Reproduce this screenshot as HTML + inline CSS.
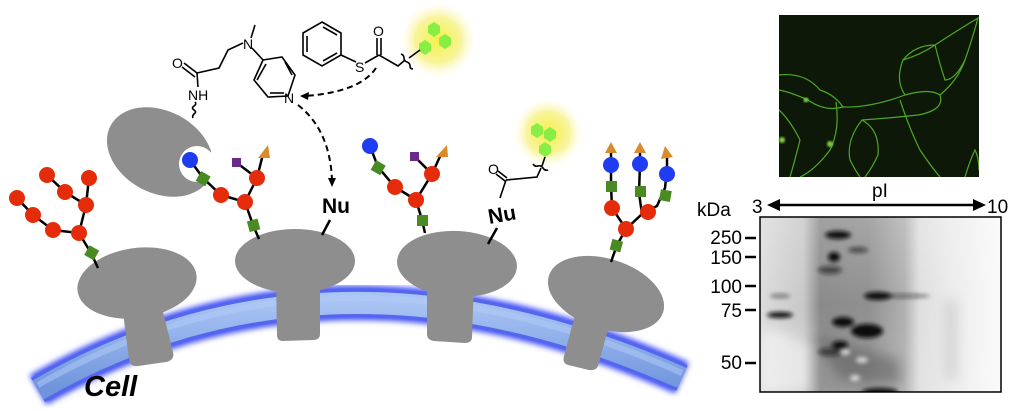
<!DOCTYPE html>
<html><head><meta charset="utf-8"><style>
html,body{margin:0;padding:0;background:#fff;width:1024px;height:411px;overflow:hidden}
svg{display:block}
text{font-family:"Liberation Sans",sans-serif}
</style></head><body>
<svg width="1024" height="411" viewBox="0 0 1024 411" xmlns="http://www.w3.org/2000/svg">
<defs>
<filter id="b3" x="-20%" y="-20%" width="140%" height="140%"><feGaussianBlur stdDeviation="3"/></filter>
<filter id="b2" x="-50%" y="-50%" width="200%" height="200%"><feGaussianBlur stdDeviation="2"/></filter>
<filter id="b6" x="-50%" y="-50%" width="200%" height="200%"><feGaussianBlur stdDeviation="6"/></filter>
<filter id="b1"><feGaussianBlur stdDeviation="1"/></filter>
<radialGradient id="glow"><stop offset="0" stop-color="#f4f04a"/><stop offset="0.6" stop-color="#f8f49a"/><stop offset="1" stop-color="#fffbe0" stop-opacity="0"/></radialGradient>
<linearGradient id="mem" x1="0" y1="0" x2="0" y2="1"><stop offset="0" stop-color="#a8c4f4"/><stop offset="1" stop-color="#6f94dc"/></linearGradient>
<linearGradient id="gelbg" x1="0" y1="0" x2="1" y2="0">
<stop offset="0" stop-color="#dcdcdc"/><stop offset="0.18" stop-color="#c8c8c8"/><stop offset="0.25" stop-color="#8a8a8a"/><stop offset="0.45" stop-color="#909090"/><stop offset="0.6" stop-color="#b0b0b0"/><stop offset="0.66" stop-color="#dedede"/><stop offset="0.8" stop-color="#ececec"/><stop offset="1" stop-color="#fafafa"/></linearGradient>
<linearGradient id="gelv" x1="0" y1="0" x2="0" y2="1"><stop offset="0" stop-color="#fff" stop-opacity="0.2"/><stop offset="0.5" stop-color="#fff" stop-opacity="0"/><stop offset="1" stop-color="#fff" stop-opacity="0.1"/></linearGradient>
<clipPath id="gelc"><rect x="760" y="217" width="241" height="175"/></clipPath>
<clipPath id="flc"><rect x="779" y="15" width="200" height="162"/></clipPath>
</defs>

<!-- membrane -->
<path d="M38,390 Q330,222 682,378" fill="none" stroke="#3b4cf5" stroke-width="34" filter="url(#b3)"/>
<path d="M38,390 Q330,222 682,378" fill="none" stroke="#5566ee" stroke-width="28"/>
<path d="M38,390 Q330,222 682,378" fill="none" stroke="url(#mem)" stroke-width="22"/>
<path d="M38,390 Q330,222 682,378" fill="none" stroke="#b2cbf5" stroke-width="6" transform="translate(0,-5)" opacity="0.5"/>

<g fill="#8e8e8e">
<ellipse cx="137" cy="283" rx="60" ry="35" transform="rotate(-8 137 283)"/>
<path d="M122,305 L160,300 L173,352 Q175,360 166,362 L138,366 Q130,367 129,359 Z"/>
<ellipse cx="295" cy="261" rx="60" ry="32"/>
<path d="M276,280 L320,280 L320,334 Q320,340 313,340 L283,341 Q277,341 277,335 Z"/>
<ellipse cx="457" cy="264" rx="60" ry="33" transform="rotate(3 457 264)"/>
<path d="M427,282 L474,282 L472,337 Q472,343 465,343 L434,341 Q427,340 427,334 Z"/>
<ellipse cx="606" cy="294" rx="60" ry="35" transform="rotate(18 606 294)"/>
<path d="M575,315 L610,322 L598,366 Q596,371 589,370 L568,365 Q562,363 564,356 Z"/>
<!-- lectin -->
<ellipse cx="160" cy="152" rx="56" ry="41" transform="rotate(28 160 152)"/>
</g>
<circle cx="197" cy="164" r="18" fill="#fff"/>
<polygon points="197,164 216,148 232,160 225,185 203,181" fill="#fff"/>

<text x="84" y="396" font-size="29" font-weight="bold" font-style="italic" fill="#000">Cell</text>

<g stroke="#000" stroke-width="2.5" fill="none">
<polyline points="17,198 33,215 53,230 79,233 91,253 98,268"/>
<polyline points="47,175 65,192 86,205 79,233"/>
<polyline points="89,178 86,205"/>
<polyline points="190,160 203,178 221,195 245,202 253,225 259,239"/>
<polyline points="245,202 257,178 263,154"/>
<polyline points="237,163 257,178"/>
<polyline points="370,146 378,167 395,187 416,200 422,220 425,233"/>
<polyline points="416,200 432,174 442,152"/>
<polyline points="415,157 432,174"/>
<polyline points="611,165 611,185 612,208 626,229 642,214 639,193 640,164"/>
<polyline points="626,229 617,245 611,262"/>
<polyline points="642,214 657,206 665,188 667,170"/>
<polyline points="611,150 611,165"/><polyline points="640,150 640,164"/><polyline points="667,155 667,170"/>
<line x1="330" y1="220" x2="322" y2="235"/>
<line x1="497" y1="228" x2="488" y2="244"/>
</g>
<g fill="#e42c0a">
<circle cx="17" cy="198" r="8"/><circle cx="33" cy="215" r="8"/><circle cx="53" cy="230" r="8"/><circle cx="79" cy="233" r="8"/>
<circle cx="47" cy="175" r="8"/><circle cx="65" cy="192" r="8"/><circle cx="86" cy="205" r="8"/><circle cx="89" cy="178" r="8"/>
<circle cx="221" cy="195" r="8"/><circle cx="245" cy="202" r="8"/><circle cx="257" cy="178" r="8"/>
<circle cx="395" cy="187" r="8"/><circle cx="416" cy="200" r="8"/><circle cx="432" cy="174" r="8"/>
<circle cx="612" cy="208" r="8"/><circle cx="626" cy="229" r="8"/><circle cx="648" cy="212" r="8"/>
</g>
<g fill="#1f3cf0">
<circle cx="190" cy="160" r="8"/><circle cx="370" cy="146" r="8"/>
<circle cx="611" cy="165" r="8"/><circle cx="640" cy="164" r="8"/><circle cx="667" cy="174" r="8"/>
</g>
<g fill="#4a8a22">
<rect x="86" y="247" width="11" height="11" transform="rotate(30 91 253)"/>
<rect x="198" y="173" width="11" height="11" transform="rotate(30 203 178)"/>
<rect x="248" y="220" width="11" height="11" transform="rotate(-15 253 225)"/>
<rect x="373" y="162" width="11" height="11" transform="rotate(30 378 167)"/>
<rect x="417" y="215" width="11" height="11"/>
<rect x="606" y="181" width="11" height="11"/><rect x="635" y="186" width="11" height="11"/><rect x="660" y="190" width="11" height="11" transform="rotate(10 665 195)"/>
<rect x="611" y="240" width="11" height="11" transform="rotate(15 616 245)"/>
</g>
<g fill="#6b2a8a"><rect x="232" y="158" width="9" height="9"/><rect x="410" y="152" width="9" height="9"/></g>
<g fill="#d98a2a">
<polygon points="258,158 270,158 268,145"/><polygon points="436,157 448,157 447,145"/>
<polygon points="605,153 617,153 611,142"/><polygon points="634,153 646,153 640,142"/><polygon points="661,159 673,157 665,146"/>
</g>

<text x="322" y="213" font-size="21" font-weight="bold">Nu</text>
<text x="488" y="222" font-size="21" font-weight="bold" transform="rotate(-10 500 215)">Nu</text>

<circle cx="438" cy="40" r="38" fill="url(#glow)"/>
<circle cx="548" cy="133" r="35" fill="url(#glow)"/>
<g fill="#88ee44">
<polygon points="434,22 440,26 440,33 434,37 428,33 428,26"/>
<polygon points="445,34 451,38 451,45 445,49 439,45 439,38"/>
<polygon points="425,40 431,44 431,51 425,55 419,51 419,44"/>
<polygon points="537,123 543,127 543,134 537,138 531,134 531,127"/>
<polygon points="550,127 556,131 556,138 550,142 544,138 544,131"/>
<polygon points="545,142 551,146 551,153 545,157 539,153 539,146"/>
</g>

<g stroke="#000" stroke-width="1.6" fill="none">
<polygon points="263,60 282,57 295,75 288,96 268,97 254,80"/>
<line x1="266" y1="64" x2="257" y2="80"/><line x1="285" y1="62" x2="292" y2="75"/><line x1="270" y1="93" x2="284" y2="93"/>
<line x1="263" y1="60" x2="252" y2="48"/>
<line x1="251" y1="38" x2="255" y2="25"/>
<polyline points="243,43 228,50 219,68 197,73"/>
<line x1="197" y1="73" x2="184" y2="63"/><line x1="195" y1="77" x2="182" y2="67"/>
<line x1="197" y1="73" x2="198" y2="87"/>
<path d="M195,102 q2,2 -1,4 q-3,2 0,4 q3,2 0,4 q-2,2 -1,4"/>
<polygon points="322,22 341,33 341,55 322,66 303,55 303,33"/>
<line x1="307" y1="36" x2="307" y2="52"/><line x1="323" y1="27" x2="337" y2="35"/><line x1="323" y1="61" x2="337" y2="53"/>
<line x1="341" y1="55" x2="356" y2="62"/>
<line x1="365" y1="63" x2="379" y2="55"/>
<line x1="377" y1="55" x2="377" y2="38"/><line x1="381" y1="55" x2="381" y2="38"/>
<polyline points="379,55 398,66 405,60"/>
<path d="M401,54 q3,1 3,4 q0,3 3,4 q3,1 3,4 q0,3 3,3"/>
<line x1="409" y1="58" x2="420" y2="50"/>
<line x1="498" y1="171" x2="507" y2="178"/><line x1="496" y1="174" x2="505" y2="181"/>
<polyline points="506,180 500,198"/>
<polyline points="506,180 537,177 541,168"/>
<path d="M533,164 q2,3 5,2 q3,-1 5,2 q2,3 5,2"/>
<line x1="542" y1="166" x2="545" y2="157"/>
</g>
<g font-size="14" fill="#000">
<text x="243" y="49">N</text>
<text x="284" y="103">N</text>
<text x="172" y="68">O</text>
<text x="188" y="100">NH</text>
<text x="355" y="72">S</text>
<text x="373" y="36">O</text>
<text x="488" y="174">O</text>
</g>
<g stroke="#000" stroke-width="2" fill="none" stroke-dasharray="6,4">
<path d="M376,68 Q360,92 305,96"/>
<path d="M298,105 Q330,130 332,180"/>
</g>
<polygon points="300,96 309,92 308,100" fill="#000"/>
<polygon points="332,187 328,178 336,178" fill="#000"/>

<!-- fluorescence image -->
<rect x="779" y="15" width="200" height="162" fill="#0e1808"/>
<g clip-path="url(#flc)" stroke="#4ea825" stroke-width="1.2" fill="none">
<path d="M779,75 Q805,72 820,90 Q835,95 843,107 Q825,112 808,100 Q790,92 779,90"/>
<path d="M836,102 Q840,130 830,150 Q815,170 800,177"/>
<path d="M843,107 Q870,108 905,95 Q930,88 940,95 Q945,110 918,115 Q890,118 862,120 Q846,140 850,160 Q855,170 860,177"/>
<path d="M905,95 Q895,80 903,60 Q915,45 935,45 Q958,30 978,18 Q972,40 965,60 Q958,80 940,95"/>
<path d="M935,45 Q940,65 945,80 Q955,80 965,60"/>
<path d="M903,60 Q920,55 935,45"/>
<path d="M862,120 Q880,130 878,155 Q872,168 865,177"/>
<path d="M779,110 Q790,120 800,140 Q795,160 790,177"/>
<path d="M900,100 Q910,130 920,150 Q930,165 940,177"/>
<path d="M965,177 Q970,160 975,150 Q979,158 979,170"/>
</g>
<circle cx="782" cy="140" r="3" fill="#7fd040" filter="url(#b1)"/>
<circle cx="830" cy="144" r="3" fill="#7fd040" filter="url(#b1)"/>
<circle cx="806" cy="100" r="2.5" fill="#7fd040" filter="url(#b1)"/>

<!-- gel -->
<g clip-path="url(#gelc)">
<rect x="760" y="217" width="241" height="175" fill="url(#gelbg)"/>
<rect x="760" y="217" width="241" height="175" fill="url(#gelv)"/>
<g filter="url(#b6)" opacity="0.5">
<rect x="760" y="330" width="50" height="62" fill="#fff"/>
<path d="M775,330 L820,345 L840,380 L900,385 L900,360 L830,340 Z" fill="#555"/>
<rect x="945" y="300" width="12" height="80" fill="#bbb"/>
</g>
<g filter="url(#b2)" fill="#111">
<ellipse cx="838" cy="235" rx="13" ry="4"/>
<ellipse cx="834" cy="257" rx="6" ry="5"/>
<ellipse cx="878" cy="296" rx="14" ry="4"/>
<ellipse cx="867" cy="331" rx="16" ry="7"/>
<ellipse cx="843" cy="322" rx="11" ry="5"/>
<ellipse cx="840" cy="345" rx="8" ry="4"/>
<ellipse cx="780" cy="315" rx="13" ry="3"/>
<ellipse cx="780" cy="296" rx="10" ry="2" opacity="0.5"/>
<ellipse cx="858" cy="250" rx="10" ry="3" opacity="0.6"/>
<ellipse cx="830" cy="270" rx="12" ry="4" opacity="0.6"/>
<ellipse cx="905" cy="296" rx="25" ry="2" opacity="0.5"/>
<ellipse cx="830" cy="352" rx="12" ry="4" opacity="0.6"/>
<ellipse cx="880" cy="392" rx="18" ry="4"/>
</g>
<g fill="#fff" opacity="0.7" filter="url(#b2)">
<ellipse cx="845" cy="352" rx="5" ry="3"/><ellipse cx="862" cy="360" rx="6" ry="3"/><ellipse cx="855" cy="378" rx="5" ry="3"/>
</g>
</g>
<rect x="760" y="217" width="241" height="175" fill="none" stroke="#000" stroke-width="1.5"/>
<line x1="775" y1="205" x2="978" y2="205" stroke="#000" stroke-width="2.5"/>
<polygon points="767,205 780,199 780,211" fill="#000"/>
<polygon points="986,205 973,199 973,211" fill="#000"/>
<g font-size="19" fill="#000">
<text x="872" y="197">pI</text>
<text x="752" y="213">3</text>
<text x="987" y="213">10</text>
<text x="697" y="216">kDa</text>
<text x="742" y="244" text-anchor="end">250</text>
<text x="742" y="264" text-anchor="end">150</text>
<text x="742" y="293" text-anchor="end">100</text>
<text x="742" y="317" text-anchor="end">75</text>
<text x="742" y="369" text-anchor="end">50</text>
</g>
<g stroke="#000" stroke-width="2.5">
<line x1="745" y1="238" x2="756" y2="238"/><line x1="745" y1="257" x2="756" y2="257"/>
<line x1="745" y1="286" x2="756" y2="286"/><line x1="745" y1="310" x2="756" y2="310"/>
<line x1="745" y1="363" x2="756" y2="363"/>
</g>
</svg>
</body></html>
